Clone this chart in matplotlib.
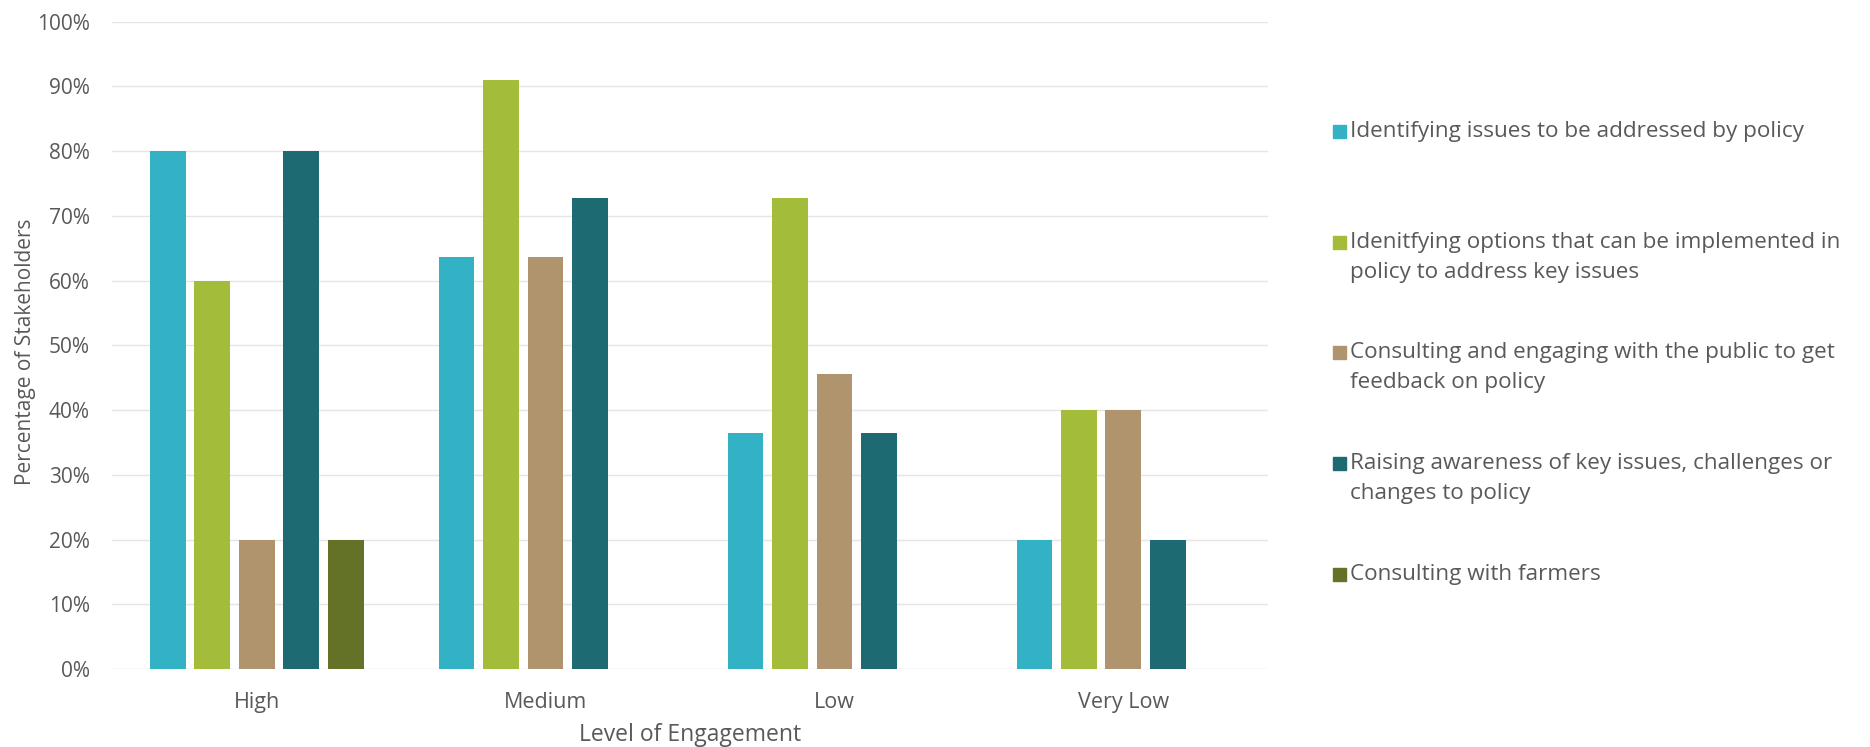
import numpy as np
import matplotlib
matplotlib.use("Agg")
import matplotlib.pyplot as plt
from matplotlib.patches import Rectangle

plt.rcParams['font.family'] = ['Open Sans', 'DejaVu Sans']

# data
levels = ['High', 'Medium', 'Low', 'Very Low']
series_names = [
    'Identifying issues to be addressed by policy',
    'Idenitfying options that can be implemented in\npolicy to address key issues',
    'Consulting and engaging with the public to get\nfeedback on policy',
    'Raising awareness of key issues, challenges or\nchanges to policy',
    'Consulting with farmers',
]
identifying_issues = [80.0, 63.6, 36.4, 20.0]
identifying_options = [60.0, 90.9, 72.7, 40.0]
consulting_public = [20.0, 63.6, 45.5, 40.0]
raising_awareness = [80.0, 72.7, 36.4, 20.0]
consulting_farmers = [20.0, 0.0, 0.0, 0.0]
yticks = [0, 10, 20, 30, 40, 50, 60, 70, 80, 90, 100]

colors = ['#33B1C5', '#A3BC39', '#AF946E', '#1E6A72', '#637226']
all_series = [identifying_issues, identifying_options, consulting_public,
              raising_awareness, consulting_farmers]
grey = '#595959'

fig = plt.figure(figsize=(18.7, 7.47), dpi=100)
ax = fig.add_axes([0.06, 0.1044, 0.618, 0.8668])

x = np.arange(len(levels))
slot = 0.154
width = 0.124
for i, vals in enumerate(all_series):
    ax.bar(x + (i - 2) * slot, vals, width, color=colors[i], zorder=2)

ax.set_xlim(-0.5, len(levels) - 0.5)
ax.set_ylim(0, 100)
ax.set_yticks(yticks)
ax.set_yticklabels([f'{t}%' for t in yticks])
ax.set_xticks(x)
ax.set_xticklabels(levels)
ax.grid(axis='y', color='#E5E5E5', lw=1, zorder=0)
for s in ax.spines.values():
    s.set_visible(False)
ax.tick_params(length=0, colors=grey)
ax.tick_params(axis='y', labelsize=15, pad=16)
ax.tick_params(axis='x', labelsize=15.5, pad=16.5)

ax.set_ylabel('Percentage of Stakeholders', fontsize=15, color=grey)
ax.yaxis.set_label_coords(-0.066, 0.49)
ax.set_xlabel('Level of Engagement', fontsize=16.5, color=grey)
ax.xaxis.set_label_coords(0.5, -0.0839)

# legend laid out like Excel: equal slots, marker on first line
first_line_y = [130, 241, 351, 462, 573]
H = 747.0
W = 1870.0
for i, name in enumerate(series_names):
    yc = 1 - first_line_y[i] / H
    fig.patches.append(Rectangle((1333 / W, yc - 7.5 / H), 13 / W, 13 / H,
                                 transform=fig.transFigure, color=colors[i]))
    fig.text(1350 / W, yc + 9 / H, name, fontsize=16.2, color=grey,
             va='top', ha='left', linespacing=1.55)

fig.savefig('out.png', dpi=100, facecolor='white')
